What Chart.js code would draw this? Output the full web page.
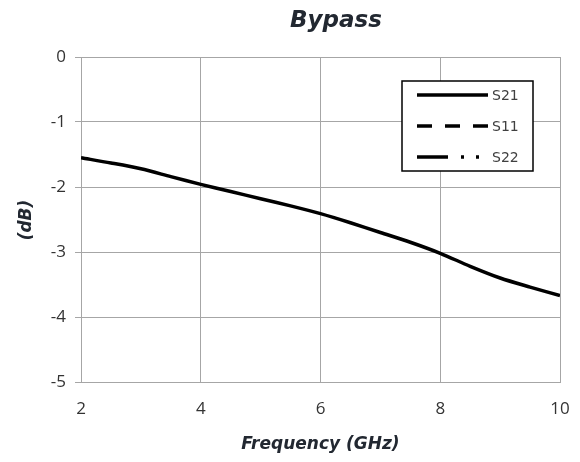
<!DOCTYPE html>
<html><head><meta charset="utf-8">
<script src="https://cdn.jsdelivr.net/npm/chart.js@4"></script>
<style>html,body{margin:0;padding:0;background:#fff}#wrap{width:580px;height:462px}</style>
</head><body><div id="wrap"><canvas id="c" width="580" height="462"></canvas></div>
<script>
const titleText = "Bypass";
const xTitle = "Frequency (GHz)";
const yTitle = "(dB)";
const freq = [2,2.5,3,3.5,4,4.5,5,5.5,6,6.5,7,7.5,8,8.5,9,9.5,10];
const s21 = [-1.55,-1.63,-1.72,-1.84,-1.96,-2.07,-2.18,-2.29,-2.41,-2.55,-2.70,-2.85,-3.02,-3.22,-3.40,-3.54,-3.67];
const s11 = [];
const s22 = [];
const seriesNames = ["S21","S11","S22"];
const xTicks = [2,4,6,8,10];
const yTicks = [0,-1,-2,-3,-4,-5];

const toXY = (xs, ys) => ys.map((v,i)=>({x:xs[i], y:v}));
const dashes = [[], [15,13], [31,13,3,12,3,200]];

const overlay = {
  id:'overlay',
  afterDraw(chart){
    const ctx = chart.ctx, ca = chart.chartArea;
    ctx.save();
    ctx.fillStyle = '#222831';
    ctx.font = 'italic bold 23px "DejaVu Sans", sans-serif';
    ctx.textAlign='center'; ctx.textBaseline='alphabetic';
    ctx.fillText(titleText, 336, 27);
    ctx.font = 'italic bold 17px "DejaVu Sans", sans-serif';
    ctx.fillText(xTitle, (ca.left+ca.right)/2, 449);
    ctx.translate(31, 220);
    ctx.rotate(-Math.PI/2);
    ctx.fillText(yTitle, 0, 0);
    ctx.restore();
    // legend
    ctx.save();
    const bx=402, by=81, bw=131, bh=90;
    ctx.fillStyle='#fff'; ctx.fillRect(bx,by,bw,bh);
    ctx.strokeStyle='#000'; ctx.lineWidth=1.5; ctx.strokeRect(bx,by,bw,bh);
    chart.data.datasets.forEach((ds,i)=>{
      const y = by+14+i*31;
      ctx.beginPath();
      ctx.setLineDash(ds.borderDash||[]);
      ctx.lineWidth=3.5; ctx.lineCap='butt'; ctx.strokeStyle='#000';
      ctx.moveTo(417,y); ctx.lineTo(488,y); ctx.stroke();
      ctx.setLineDash([]);
      ctx.fillStyle='#404040'; ctx.font='14px "DejaVu Sans", sans-serif';
      ctx.textAlign='left'; ctx.textBaseline='middle';
      ctx.fillText(ds.label, 492, y+1);
    });
    ctx.restore();
  }
};

new Chart(document.getElementById('c'), {
  type:'line',
  data:{ datasets:[
    {label:seriesNames[0], data:toXY(freq,s21), borderColor:'#000', borderWidth:3.5, pointRadius:0, tension:0.3, borderDash:dashes[0]},
    {label:seriesNames[1], data:toXY(freq,s11), borderColor:'#000', borderWidth:3.5, pointRadius:0, borderDash:dashes[1]},
    {label:seriesNames[2], data:toXY(freq,s22), borderColor:'#000', borderWidth:3.5, pointRadius:0, borderDash:dashes[2]}
  ]},
  options:{
    responsive:false, animation:false,
    layout:{padding:{left:0, right:20, top:57, bottom:0}},
    plugins:{legend:{display:false}, title:{display:false}, tooltip:{enabled:false}},
    scales:{
      x:{type:'linear', min:2, max:10,
        afterBuildTicks(s){ s.ticks = xTicks.map(v=>({value:v})); },
        afterFit(s){ s.height = 80; s.paddingLeft = 0; s.paddingRight = 0; },
        grid:{color:'#a6a6a6', lineWidth:1, drawTicks:false},
        border:{color:'#a6a6a6'},
        ticks:{padding:17, color:'#333', font:{size:17, family:'"Open Sans", sans-serif'}, maxRotation:0}
      },
      y:{type:'linear', min:-5, max:0,
        afterBuildTicks(s){ s.ticks = yTicks.map(v=>({value:v})); },
        afterFit(s){ s.width = 81; s.paddingTop = 0; s.paddingBottom = 0; },
        grid:{color:'#a6a6a6', lineWidth:1, tickLength:6},
        border:{color:'#a6a6a6'},
        ticks:{padding:9, color:'#333', font:{size:17, family:'"Open Sans", sans-serif'}}
      }
    }
  },
  plugins:[overlay]
});
</script></body></html>
